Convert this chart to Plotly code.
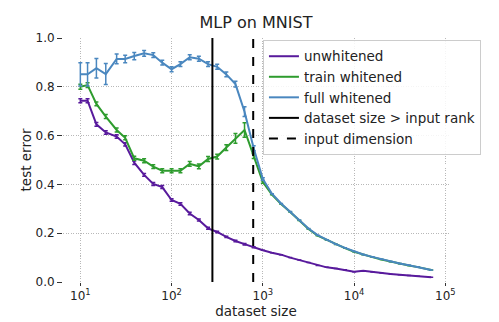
import plotly.graph_objects as go

# dataset sizes (shared by all three curves)
sizes = [10, 12, 15, 19, 25, 31, 39, 50, 63, 79, 100, 125, 158, 199, 251, 316, 398, 501, 630, 794,
         1000, 1258, 1584, 1995, 2511, 3162, 3981, 5011, 6309, 7943, 10000, 12589, 15848, 19952,
         25118, 31622, 39810, 50118, 70000]

unwhitened = [0.743, 0.743, 0.646, 0.613, 0.596, 0.564, 0.489, 0.439, 0.402, 0.389, 0.336, 0.320, 0.281,
              0.254, 0.220, 0.205, 0.185, 0.168, 0.155, 0.142, 0.130, 0.120, 0.112, 0.100, 0.090, 0.080,
              0.068, 0.060, 0.055, 0.050, 0.042, 0.046, 0.041, 0.037, 0.033, 0.030, 0.027, 0.024, 0.019]
unwhitened_err = [0.008, 0.008, 0.008, 0.007, 0.007, 0.007, 0.007, 0.006, 0.006, 0.006, 0.005, 0.005, 0.005,
                  0.004, 0.004, 0.003, 0.003, 0.003, 0.003, 0.002] + [0.0] * 19

train_whitened = [0.800, 0.807, 0.730, 0.678, 0.623, 0.591, 0.507, 0.497, 0.473, 0.456, 0.456, 0.456, 0.484,
                  0.474, 0.504, 0.514, 0.551, 0.589, 0.623, 0.516, 0.410, 0.358, 0.320, 0.287, 0.252, 0.217,
                  0.190, 0.172, 0.154, 0.139, 0.124, 0.112, 0.102, 0.092, 0.083, 0.075, 0.068, 0.061, 0.049]
train_whitened_err = [0.01, 0.01, 0.008, 0.008, 0.008, 0.008, 0.008, 0.008, 0.008, 0.008, 0.008, 0.008, 0.01,
                      0.01, 0.01, 0.01, 0.012, 0.02, 0.03, 0.01, 0.005] + [0.0] * 18

full_whitened = [0.851, 0.851, 0.876, 0.852, 0.914, 0.914, 0.926, 0.937, 0.930, 0.899, 0.872, 0.893, 0.921,
                 0.915, 0.893, 0.882, 0.851, 0.811, 0.698, 0.548, 0.422, 0.362, 0.322, 0.289, 0.254, 0.219,
                 0.192, 0.173, 0.155, 0.140, 0.125, 0.113, 0.103, 0.093, 0.084, 0.076, 0.069, 0.061, 0.049]
full_whitened_err = [0.048, 0.048, 0.04, 0.043, 0.02, 0.015, 0.015, 0.012, 0.01, 0.01, 0.01, 0.01, 0.01,
                     0.01, 0.01, 0.01, 0.01, 0.012, 0.02, 0.01, 0.005] + [0.0] * 18

input_rank = 280
input_dim = 784

xticks = [10, 100, 1000, 10000, 100000]
xticklabels = ["10<sup>1</sup>", "10<sup>2</sup>", "10<sup>3</sup>", "10<sup>4</sup>", "10<sup>5</sup>"]
yticks = [0.0, 0.2, 0.4, 0.6, 0.8, 1.0]

font_family = "DejaVu Sans"
grid = dict(showgrid=True, gridcolor="#b8b8b8", griddash="1px,1.5px", gridwidth=1)

traces = []
for name, vals, errs, color in [
    ("unwhitened", unwhitened, unwhitened_err, "#581a9c"),
    ("train whitened", train_whitened, train_whitened_err, "#2e9c2e"),
    ("full whitened", full_whitened, full_whitened_err, "#4a87bf"),
]:
    traces.append(go.Scatter(x=sizes, y=vals, mode="lines", name=name,
                             line=dict(color=color, width=2),
                             error_y=dict(type="data", array=errs, visible=True,
                                          color=color, thickness=1.5, width=2)))

# vertical reference lines
traces.append(go.Scatter(x=[input_rank, input_rank], y=[0, 1], mode="lines",
                         name="dataset size > input rank", line=dict(color="black", width=2)))
traces.append(go.Scatter(x=[input_dim, input_dim], y=[0, 1], mode="lines",
                         name="input dimension", line=dict(color="black", width=2, dash="dash")))

fig = go.Figure(traces)

# the page body adds an 8px margin, so the figure is a bit smaller than the window
fig.update_layout(
    width=491, height=314,
    paper_bgcolor="white", plot_bgcolor="white",
    font=dict(family=font_family, size=12, color="#222"),
    margin=dict(l=55, r=50, t=30, b=40, pad=0),
    title=dict(text="MLP on MNIST", x=0.5, xref="paper", xanchor="center",
               y=0.955, yanchor="middle", font=dict(size=16, color="#222")),
    showlegend=True,
    legend=dict(x=0.518, y=0.992, xanchor="left", yanchor="top",
                bgcolor="rgba(255,255,255,0.85)", bordercolor="#cccccc", borderwidth=1,
                font=dict(size=13.5, color="#222"), tracegroupgap=0),
)

fig.update_xaxes(type="log", range=[0.81, 5.04], tickvals=xticks, ticktext=xticklabels,
                 ticks="outside", ticklen=3, tickcolor="#333", showline=False, zeroline=False,
                 tickfont=dict(size=12), automargin=False,
                 title=dict(text="dataset size", font=dict(size=13.5), standoff=3), **grid)
fig.update_yaxes(range=[0, 1], tickvals=yticks, tickformat=".1f",
                 ticks="outside", ticklen=5, tickcolor="#333", showline=False, zeroline=False,
                 tickfont=dict(size=12), automargin=False,
                 title=dict(text="test error", font=dict(size=13.5), standoff=0), **grid)

fig.write_html("out.html")
